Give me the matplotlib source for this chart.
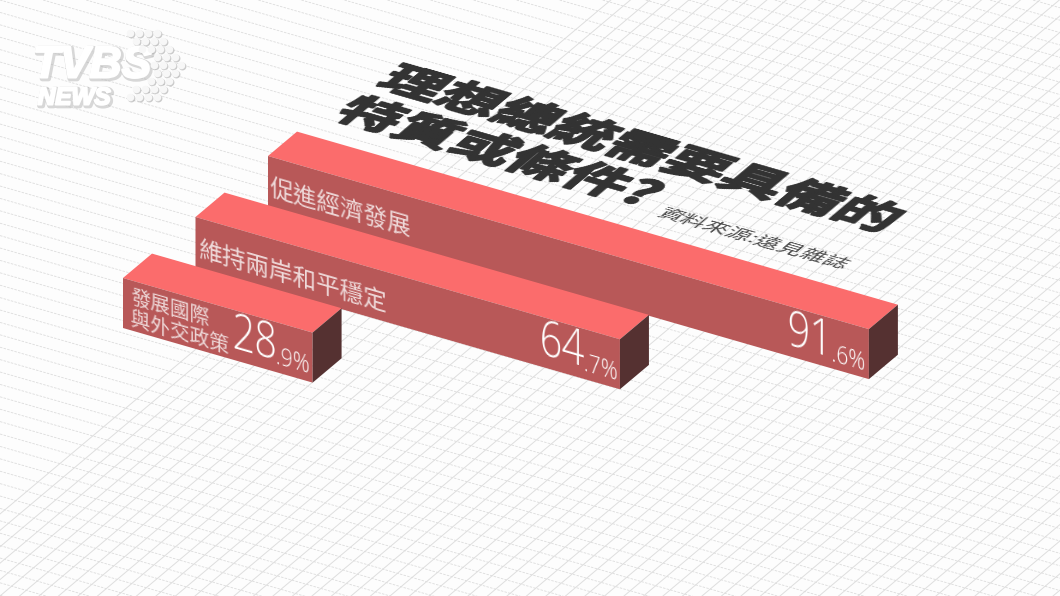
#!/usr/bin/env python
import numpy as np
import matplotlib as mpl
mpl.use('Agg')
import matplotlib.pyplot as plt
import matplotlib.patheffects as pe

categories = ['促進經濟發展', '維持兩岸和平穩定', '發展國際\n與外交政策']
values = [91.6, 64.7, 28.9]
rows = [2, 1, 0]
label_pos = [11.1, 14.9, 8.8]
label_size = [24.5, 24.5, 20.5]
title_lines = ['理想總統需要具備的', '特質或條件?']
source = '資料來源:遠見雜誌'

# isometric axes in pixels: per percent, per bar depth, per bar height
U = np.array([6.56, 1.89])
D = np.array([29.0, -24.4])
H = np.array([0.0, 50.0])
O = np.array([123.0, 278.0])
ROW_GAP = 2.5

TOP = '#fb6c6c'
FRONT = '#b85858'
SIDE = '#553131'
FONT = ['Noto Sans CJK TC', 'DejaVu Sans']
NUM_FONT = ['Open Sans', 'DejaVu Sans']


def project(u, d=0.0, h=0.0, row=0):
    return O + u * U + (d + row * ROW_GAP) * D + h * H


def skew(x_dir, down_dir):
    # agg filter: shears a rendered text so it lies on a face of the box
    m = np.array([[x_dir[0], down_dir[0]], [x_dir[1], down_dir[1]]], dtype=float)
    inv = np.linalg.inv(m)

    def flt(img, dpi):
        h, w = img.shape[:2]
        corners = m @ (np.array([[-w, w, -w, w], [-h, -h, h, h]]) / 2)
        W, Ht = (np.ceil(np.ptp(corners, axis=1)).astype(int) + 2)
        yy, xx = np.mgrid[0:Ht, 0:W]
        sx, sy = inv @ np.stack([xx.ravel() - W / 2 + .5, yy.ravel() - Ht / 2 + .5])
        sx = sx + w / 2 + .5
        sy = sy + h / 2 + .5
        src = img.copy()
        src[..., :3] *= src[..., 3:]
        src = np.pad(src, ((1, 1), (1, 1), (0, 0)))
        x0 = np.clip(np.floor(sx).astype(int), 0, w)
        y0 = np.clip(np.floor(sy).astype(int), 0, h)
        fx = np.clip(sx - x0, 0, 1)[:, None]
        fy = np.clip(sy - y0, 0, 1)[:, None]
        out = (src[y0, x0] * (1 - fx) * (1 - fy) + src[y0, x0 + 1] * fx * (1 - fy)
               + src[y0 + 1, x0] * (1 - fx) * fy + src[y0 + 1, x0 + 1] * fx * fy)
        out = out.reshape(Ht, W, 4)
        a = np.maximum(out[..., 3:], 1e-6)
        out[..., :3] = np.clip(out[..., :3] / a, 0, 1)
        return out, int((w - W) / 2), int((h - Ht) / 2)
    return flt


u_hat = U / np.linalg.norm(U)
d_hat = D / np.linalg.norm(D)
front_skew = skew(u_hat, (0, 1))
num_skew = skew(u_hat * 0.85, (0, 1))
ground_skew = skew(u_hat, -d_hat * 0.76)

fig = plt.figure(figsize=(10.6, 5.96), dpi=100, facecolor='#fdfdfd')
ax = fig.add_axes([0, 0, 1, 1])
ax.set_xlim(0, 1060)
ax.set_ylim(596, 0)
ax.axis('off')

# ground grid
for k in range(-30, 60):
    y0 = k * 12.4
    ax.plot([0, 1060], [y0, y0 + 1060 * U[1] / U[0]], color='#dcdcdc', lw=0.6,
            ls=(0, (3, 1.5)), zorder=1)
for k in range(-5, 60):
    x0 = k * 19.5
    ax.plot([x0, x0 + 596 * D[0] / -D[1]], [596, 0], color='#dedede', lw=0.7, zorder=1)

# bars, back to front
for cat, val, row, lp, ls in zip(categories, values, rows, label_pos, label_size):
    z = 3 + 2 * (2 - row)
    top = [project(0, 0, 0, row), project(0, 1, 0, row), project(val, 1, 0, row), project(val, 0, 0, row)]
    front = [project(0, 0, 0, row), project(val, 0, 0, row), project(val, 0, 1, row), project(0, 0, 1, row)]
    side = [project(val, 0, 0, row), project(val, 1, 0, row), project(val, 1, 1, row), project(val, 0, 1, row)]
    for face, col in ((top, TOP), (front, FRONT), (side, SIDE)):
        ax.fill(*zip(*face), color=col, lw=0, zorder=z)

    x, y = project(lp, 0, 0.64 if row else 0.54, row)
    ax.text(x, y, cat, family=FONT, weight='light', fontsize=ls * 0.72, color='#f0dcdc', ha='center', va='center',
            multialignment='left', linespacing=1.0, zorder=z + 1, agg_filter=front_skew)

    whole, dec = f'{val:.1f}'.split('.')
    x, y = project(val - 8.8, 0, 0.5, row)
    ax.text(x, y, whole, family=NUM_FONT, weight='light', fontsize=35, color='white', ha='center', va='center',
            zorder=z + 1, agg_filter=num_skew)
    x, y = project(val - 3.0, 0, 0.72, row)
    ax.text(x, y, f'.{dec}%', family=NUM_FONT, weight='light', fontsize=18.5, color='white', ha='center',
            va='center', zorder=z + 1, agg_filter=num_skew)

# title on the ground plane
stroke = [pe.withStroke(linewidth=2.0, foreground='#333333')]
ax.text(642, 153, title_lines[0], family=FONT, weight='bold', fontsize=42.5, color='#333333', ha='center', va='center',
        zorder=2, path_effects=stroke, agg_filter=ground_skew)
ax.text(500, 156, title_lines[1], family=FONT, weight='bold', fontsize=42.5, color='#333333', ha='center', va='center',
        zorder=2, path_effects=stroke, agg_filter=ground_skew)
ax.text(755, 240, source, family=FONT, weight='light', fontsize=17, color='#4a4a4a', ha='center', va='center',
        zorder=2, agg_filter=ground_skew)

# logo
shadow = [pe.Stroke(linewidth=3.5, foreground='#aaaaaa', alpha=0.45, offset=(1, -1)),
          pe.withStroke(linewidth=1.5, foreground='white')]
ax.text(92, 66, 'TVBS', family='Liberation Sans', weight='bold', style='italic', fontsize=32, color='white', ha='center',
        va='center', zorder=10, path_effects=shadow)
ax.text(74, 98, 'NEWS', family='Liberation Sans', weight='bold', style='italic', fontsize=17.5, color='white', ha='center',
        va='center', zorder=10, path_effects=shadow)
dot_rows = [33, 41, 49, 57, 65, 73, 81, 89, 97]
dot_cols = [[130, 139, 148, 157], [136, 145, 154, 163], [142, 151, 160, 169], [157, 166, 175],
            [154, 163, 172, 181], [157, 166, 175], [151, 160, 169], [136, 145, 154, 163], [130, 139, 148, 157]]
for yy, cols in zip(dot_rows, dot_cols):
    ax.scatter(np.array(cols) + 0.7, [yy + 0.7] * len(cols), s=32, color='#aaaaaa', lw=0, alpha=0.6, zorder=9)
    ax.scatter(cols, [yy] * len(cols), s=30, color='#f7f7f7', lw=0, zorder=10)

fig.savefig('out.png', dpi=100, facecolor=fig.get_facecolor())
